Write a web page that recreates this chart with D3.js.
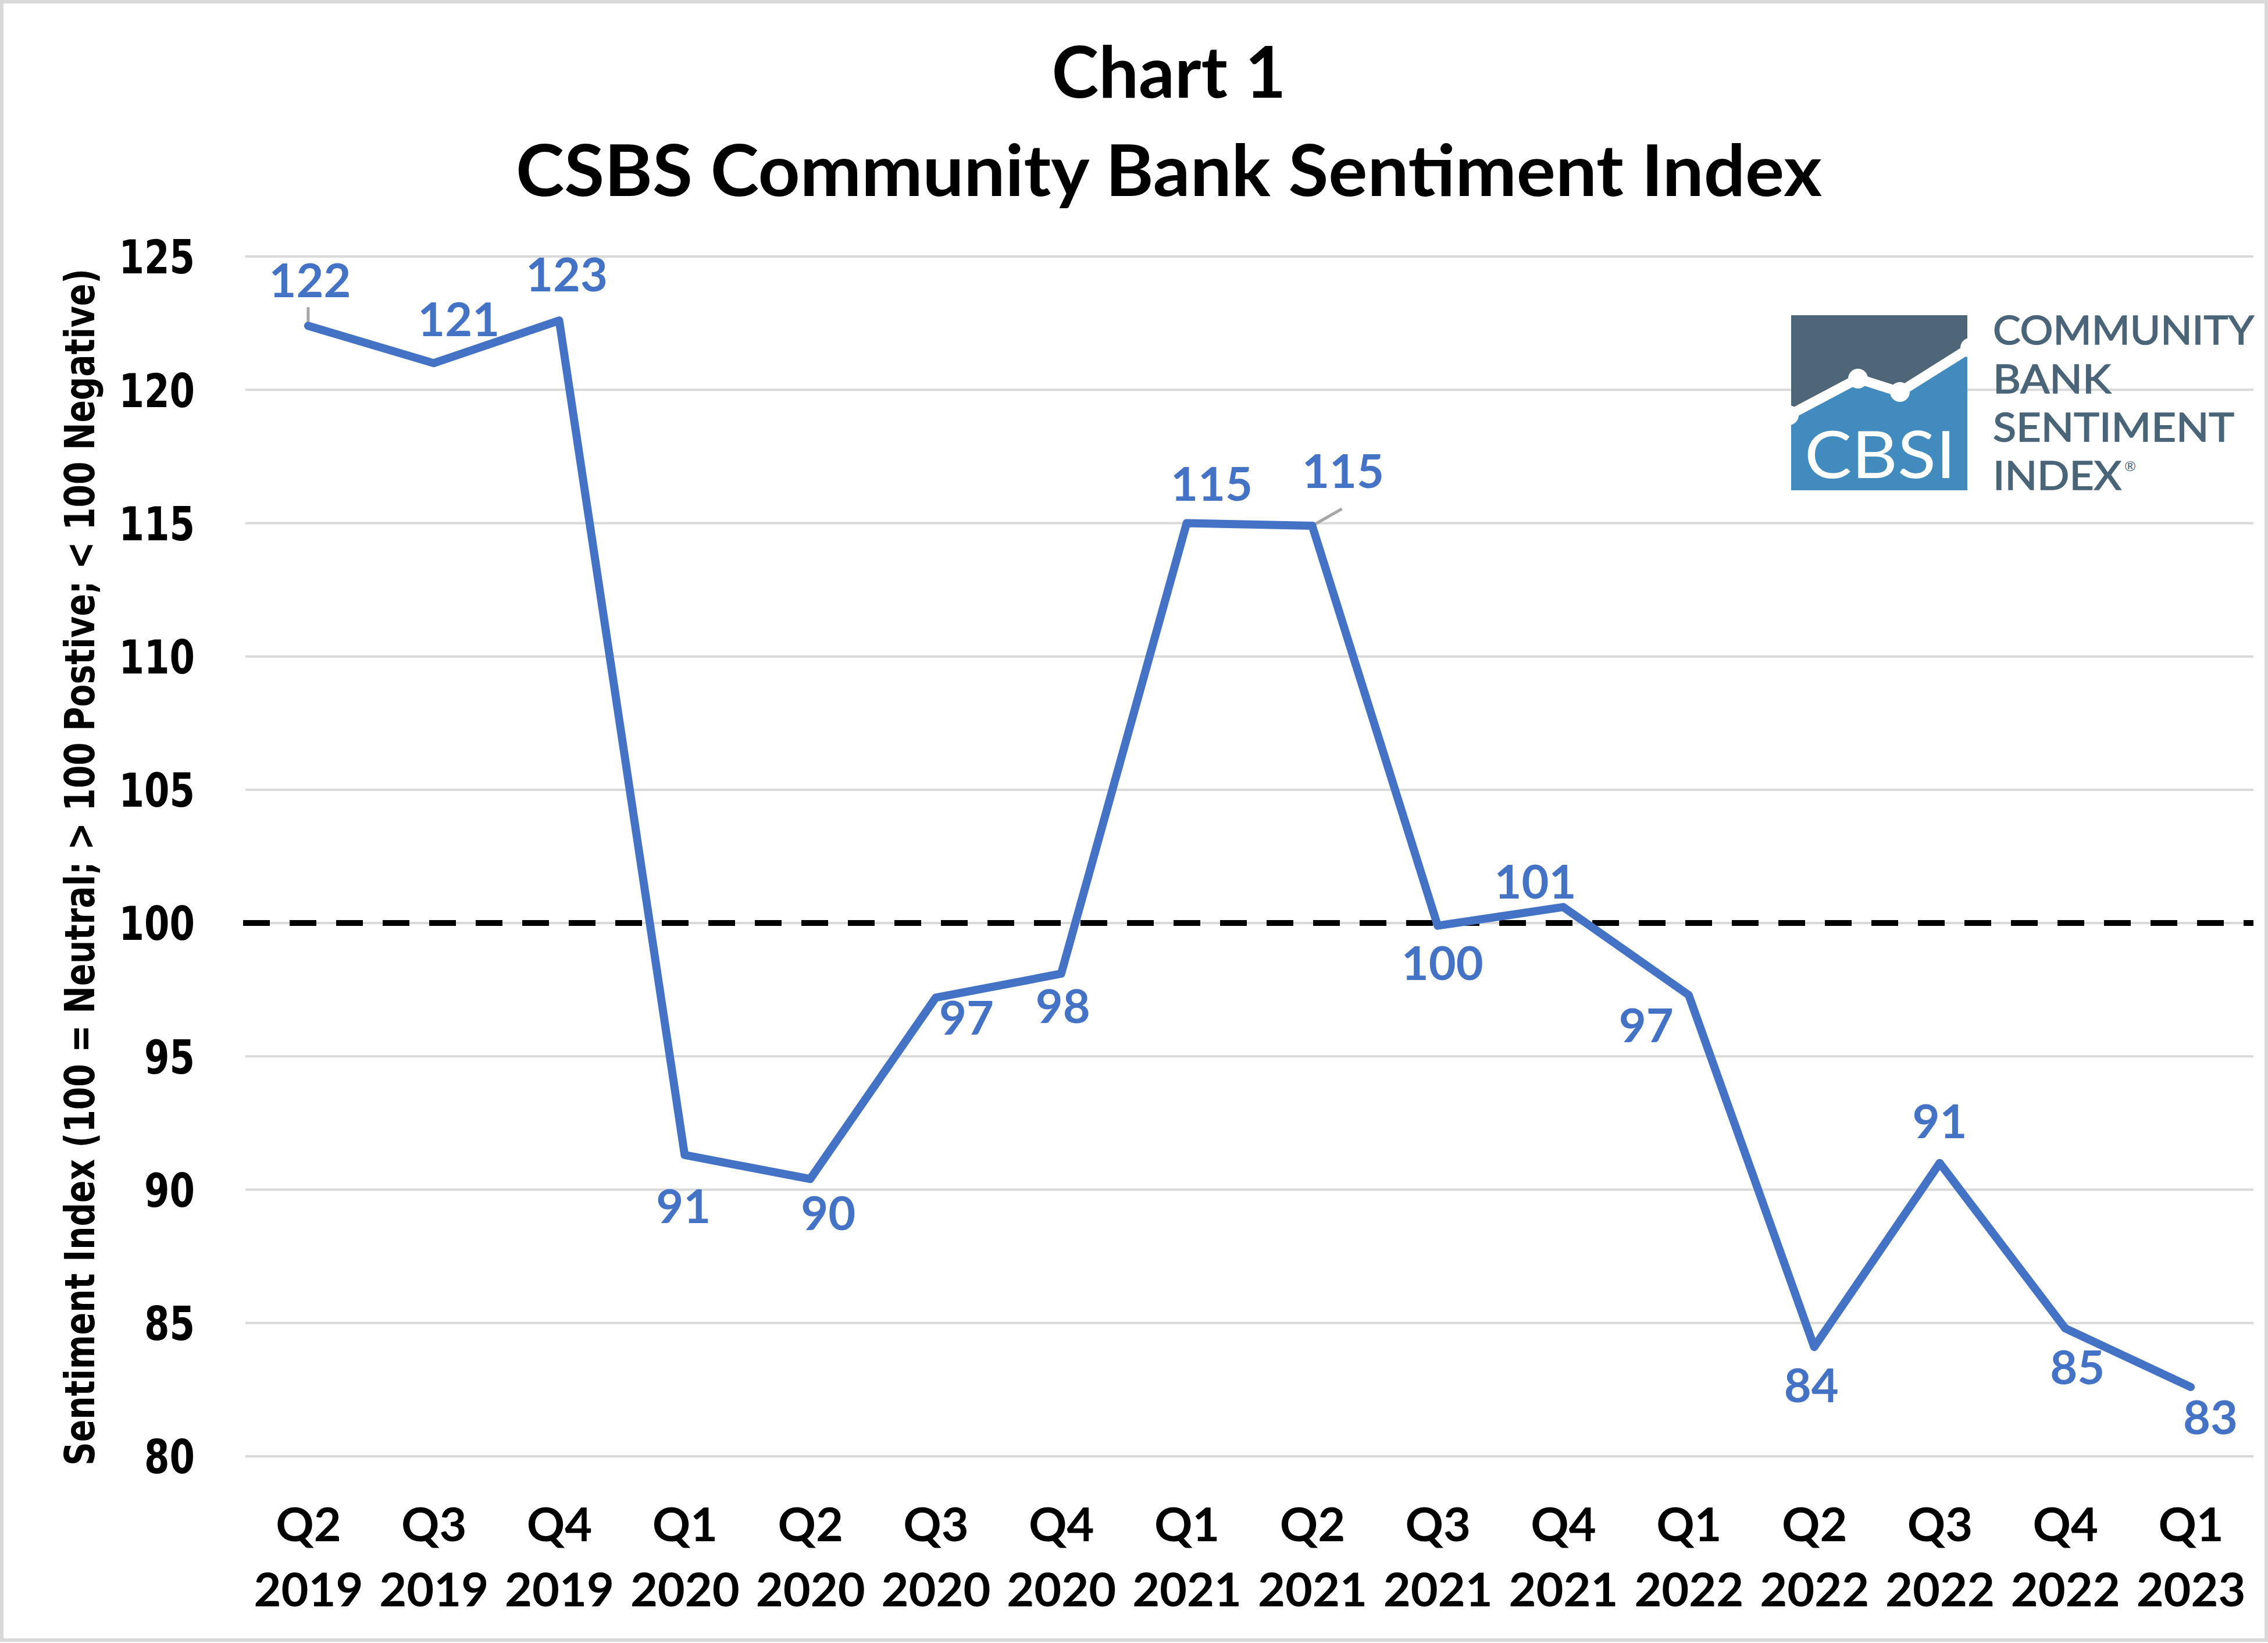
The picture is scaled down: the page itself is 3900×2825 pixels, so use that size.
<!DOCTYPE html>
<html>
<head>
<meta charset="utf-8">
<script src="https://cdn.jsdelivr.net/npm/d3@7"></script>
<style>
  html, body { margin: 0; padding: 0; background: #ffffff; }
  svg { display: block; }
</style>
</head>
<body>
<svg id="chart" width="3900" height="2825"></svg>
<script>
// ---------------- DATA ----------------
const categories = ["Q2 2019","Q3 2019","Q4 2019","Q1 2020","Q2 2020","Q3 2020","Q4 2020",
                    "Q1 2021","Q2 2021","Q3 2021","Q4 2021","Q1 2022","Q2 2022","Q3 2022","Q4 2022","Q1 2023"];
const sentimentValues = [122.4, 121.0, 122.6, 91.3, 90.4, 97.2, 98.1, 115.0, 114.9, 99.9, 100.6, 97.3, 84.1, 91.0, 84.8, 82.6];
const yTickValues = [80, 85, 90, 95, 100, 105, 110, 115, 120, 125];
const neutralLevel = 100;
const titleLines = ["Chart 1", "CSBS Community Bank Sentiment Index"];
const yAxisTitle = "Sentiment Index (100 = Neutral; > 100 Postive; < 100 Negative)";
const logoWords = ["COMMUNITY", "BANK", "SENTIMENT", "INDEX"];

// label placement (pixel offsets from each point), layout only
const labelOffsets = [[3,-78],[43,-76],[13,-79],[-2,88],[31,59],[53,34],[3,56],[43,-68],
                      [53,-94],[8,64],[-48,-44],[-73,52],[-5,66],[0,-72],[21,67],[34,52]];
const leaderLines = [{i:0, dx:0, dy:-32}, {i:8, dx:51, dy:-29}];

// ---------------- LAYOUT ----------------
const W = 3900, H = 2825;
const plot = {left: 422, right: 3875, top: 441, bottom: 2504};
const BLUE = "#4472C4";
const svg = d3.select("#chart");

// outer border
svg.append("rect").attr("x", 3).attr("y", 3).attr("width", W - 6).attr("height", H - 8)
  .attr("fill", "#ffffff").attr("stroke", "#D9D9D9").attr("stroke-width", 6);

const x = d3.scalePoint().domain(categories).range([plot.left, plot.right]).padding(0.5);
const y = d3.scaleLinear().domain([80, 125]).range([plot.bottom, plot.top]);

// gridlines
svg.append("g").selectAll("line").data(yTickValues).join("line")
  .attr("x1", plot.left).attr("x2", plot.right)
  .attr("y1", d => y(d)).attr("y2", d => y(d))
  .attr("stroke", "#D9D9D9").attr("stroke-width", 4);

// neutral dashed line
svg.append("line")
  .attr("x1", plot.left - 4).attr("x2", plot.right)
  .attr("y1", y(neutralLevel)).attr("y2", y(neutralLevel))
  .attr("stroke", "#000000").attr("stroke-width", 10)
  .attr("stroke-dasharray", "46,34");

// y axis
const yAxis = svg.append("g").attr("transform", `translate(${plot.left},0)`)
  .call(d3.axisLeft(y).tickValues(yTickValues).tickSize(0).tickPadding(87).tickFormat(d3.format("d")));
yAxis.select(".domain").remove();
yAxis.selectAll("text")
  .attr("font-family", "'DejaVu Sans Condensed', 'DejaVu Sans', sans-serif")
  .attr("font-weight", "bold").attr("font-size", 80).attr("fill", "#000")
  .attr("dy", "0.36em")
  .attr("textLength", d => 43.5 * String(d).length).attr("lengthAdjust", "spacingAndGlyphs");

// x axis
const xAxis = svg.append("g").attr("transform", `translate(0,${plot.bottom})`)
  .call(d3.axisBottom(x).tickSize(0).tickFormat(""));
xAxis.select(".domain").remove();
xAxis.selectAll(".tick text").each(function(d) {
  const parts = d.split(" ");
  const t = d3.select(this).attr("y", null).attr("dy", null)
    .attr("font-family", "Lato, 'Open Sans', sans-serif").attr("font-weight", "bold")
    .attr("font-size", 81).attr("fill", "#000").attr("text-anchor", "middle");
  t.append("tspan").attr("x", 0).attr("y", 146).text(parts[0]);
  t.append("tspan").attr("x", 0).attr("y", 258).text(parts[1]);
});

// y axis title
svg.append("text")
  .attr("transform", `translate(162,1491) rotate(-90)`)
  .attr("text-anchor", "middle")
  .attr("font-family", "'DejaVu Sans Condensed', 'DejaVu Sans', sans-serif")
  .attr("font-weight", "bold").attr("font-size", 71).attr("fill", "#000")
  .attr("textLength", 2058).attr("lengthAdjust", "spacingAndGlyphs")
  .text(yAxisTitle);

// title
const titleBase = [168, 337];
const titleWidths = [403, 2246];
titleLines.forEach((t, i) => {
  svg.append("text").attr("x", 2010).attr("y", titleBase[i])
    .attr("text-anchor", "middle")
    .attr("font-family", "Lato, 'Open Sans', sans-serif").attr("font-weight", "bold")
    .attr("font-size", 123).attr("fill", "#000")
    .attr("textLength", titleWidths[i]).attr("lengthAdjust", "spacingAndGlyphs")
    .text(t);
});

// leader lines
svg.append("g").selectAll("line").data(leaderLines).join("line")
  .attr("x1", d => x(categories[d.i])).attr("y1", d => y(sentimentValues[d.i]))
  .attr("x2", d => x(categories[d.i]) + d.dx).attr("y2", d => y(sentimentValues[d.i]) + d.dy)
  .attr("stroke", "#A6A6A6").attr("stroke-width", 5);

// series line
const line = d3.line().x((d, i) => x(categories[i])).y(d => y(d));
svg.append("path").datum(sentimentValues)
  .attr("d", line).attr("fill", "none")
  .attr("stroke", BLUE).attr("stroke-width", 14)
  .attr("stroke-linejoin", "round").attr("stroke-linecap", "round");

// data labels
svg.append("g").selectAll("text").data(sentimentValues).join("text")
  .attr("x", (d, i) => x(categories[i]) + labelOffsets[i][0])
  .attr("y", (d, i) => y(d) + labelOffsets[i][1])
  .attr("dy", "0.36em")
  .attr("text-anchor", "middle")
  .attr("font-family", "Lato, 'Open Sans', sans-serif").attr("font-weight", "bold")
  .attr("font-size", 81).attr("fill", BLUE)
  .text(d => Math.round(d));

// ---------------- LOGO ----------------
const logo = svg.append("g");
const box = {x: 3080, y: 542, w: 303, h: 301};
const clip = svg.append("defs").append("clipPath").attr("id", "logoClip");
clip.append("rect").attr("x", box.x).attr("y", box.y).attr("width", box.w).attr("height", box.h);
const lg = logo.append("g").attr("clip-path", "url(#logoClip)");
lg.append("rect").attr("x", box.x).attr("y", box.y).attr("width", box.w).attr("height", box.h).attr("fill", "#4F6678");
const wpts = [[3076, 714], [3195, 651], [3267, 674], [3388, 598]];
lg.append("path")
  .attr("d", d3.line()(wpts.concat([[3388, 850], [3076, 850]])) + "Z")
  .attr("fill", "#418BBF");
lg.append("path").attr("d", d3.line()(wpts)).attr("fill", "none")
  .attr("stroke", "#ffffff").attr("stroke-width", 17).attr("stroke-linejoin", "round");
lg.selectAll("circle").data(wpts).join("circle")
  .attr("cx", d => d[0]).attr("cy", d => d[1]).attr("r", 17).attr("fill", "#ffffff");
logo.append("text").attr("x", 3103).attr("y", 822)
  .attr("font-family", "Lato, 'Open Sans', sans-serif").attr("font-size", 112)
  .attr("fill", "#ffffff")
  .attr("textLength", 260).attr("lengthAdjust", "spacingAndGlyphs")
  .text("CBSI");
const wordBase = [592, 676, 759, 842];
const wordWidths = [449, 203, 415, 221];
logoWords.forEach((w, i) => {
  logo.append("text").attr("x", 3427).attr("y", wordBase[i])
    .attr("font-family", "Lato, 'Open Sans', sans-serif").attr("font-weight", "normal")
    .attr("font-size", 67).attr("fill", "#4A6478")
    .attr("stroke", "#4A6478").attr("stroke-width", 1.5)
    .attr("textLength", wordWidths[i]).attr("lengthAdjust", "spacingAndGlyphs")
    .text(w);
});
logo.append("text").attr("x", 3653).attr("y", 810)
  .attr("font-family", "Lato, sans-serif").attr("font-size", 24)
  .attr("fill", "#4A6478").text("®");
</script>
</body>
</html>
